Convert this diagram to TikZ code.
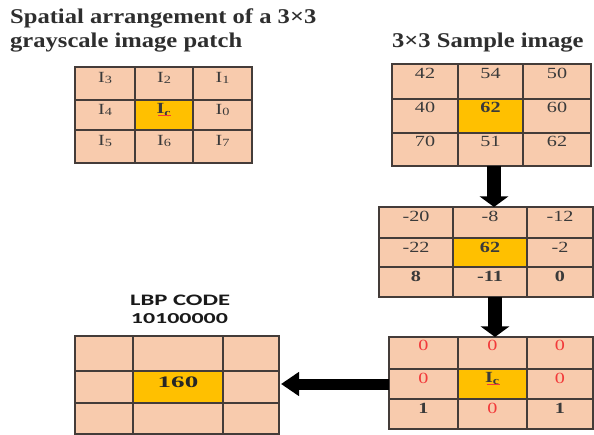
\documentclass[tikz,border=0pt]{standalone}
\usepackage{fontspec}
\setmainfont{Liberation Serif}
\newfontfamily\lbpfont{Carlito}
\usepackage{graphicx}
\usetikzlibrary{arrows.meta}
\definecolor{peach}{HTML}{F8CBAD}
\definecolor{gold}{HTML}{FFC000}
\definecolor{gridline}{HTML}{443C39}
\definecolor{txt}{HTML}{3A3A3A}
\definecolor{zred}{HTML}{F23A3A}
\definecolor{titlec}{HTML}{2E2E2E}
\newcommand{\sx}[1]{\scalebox{1.3}[1]{#1}}
\newcommand{\Isub}[1]{I\raisebox{-1pt}{\fontsize{11}{11}\selectfont #1}}
\newcommand{\Ic}{\textbf{I}\textsubscript{\textbf{c}}\llap{\textcolor{zred}{\rule[-2.5pt]{10pt}{1.1pt}}}}
\newcommand{\zr}{\textcolor{zred}{0}}
\newcommand{\cell}[8]{%
  \pgfmathsetmacro\cellw{#4-#2}%
  \pgfmathsetmacro\celld{#5-#3-#7}%
  \node[cellbox, fill=#6, anchor=north west, minimum width=\cellw pt,
        text height=#7pt, text depth=\celld pt] (#1) at (#2,#3) {\sx{#8}};}
\tikzset{
  cellbox/.style={draw=gridline, line width=1.1pt, inner sep=0pt, outer sep=0pt,
    font=\fontsize{15.5}{15.5}\selectfont, text=txt},
  titletext/.style={anchor=base west, inner sep=0pt, text=titlec,
    font=\fontsize{21}{21}\selectfont\bfseries},
  downarrow/.style={line width=13.5pt, -{Triangle[width=28pt,length=10.5pt]}},
  leftarrow/.style={line width=11pt, -{Triangle[width=23pt,length=18pt]}, shorten >=2pt}
}
\begin{document}
\begin{tikzpicture}[x=1pt,y=-1pt]
\useasboundingbox (0,0) rectangle (594,435);
% titles
\node[titletext] (t1) at (10,24) {\scalebox{1.17}[1]{Spatial arrangement of a 3×3}};
\node[titletext] (t2) at (10,48) {\scalebox{1.17}[1]{grayscale image patch}};
\node[titletext] (t3) at (392,48) {\scalebox{1.17}[1]{3×3 Sample image}};
\node[anchor=base west, inner sep=0pt, text=black!90] (lbp1) at (130,305.7)
  {\resizebox{100pt}{10.5pt}{\lbpfont\bfseries LBP CODE}};
\node[anchor=base west, inner sep=0pt, text=black!90] (lbp2) at (130.7,324)
  {\resizebox{97pt}{10pt}{\lbpfont\bfseries 10100000}};
% grid 1
\cell{g1-1}{75}{67}{135}{100}{peach}{16}{\Isub{3}}
\cell{g1-2}{135}{67}{193}{100}{peach}{16}{\Isub{2}}
\cell{g1-3}{193}{67}{252}{100}{peach}{16}{\Isub{1}}
\cell{g1-4}{75}{100}{135}{130}{peach}{15}{\Isub{4}}
\cell{g1-5}{135}{100}{193}{130}{gold}{14}{\Ic}
\cell{g1-6}{193}{100}{252}{130}{peach}{15}{\Isub{0}}
\cell{g1-7}{75}{130}{135}{163}{peach}{15.5}{\Isub{5}}
\cell{g1-8}{135}{130}{193}{163}{peach}{15.5}{\Isub{6}}
\cell{g1-9}{193}{130}{252}{163}{peach}{15.5}{\Isub{7}}
% grid 2
\cell{g2-1}{392}{64}{458}{99}{peach}{15}{42}
\cell{g2-2}{458}{64}{523}{99}{peach}{15}{54}
\cell{g2-3}{523}{64}{591}{99}{peach}{15}{50}
\cell{g2-4}{392}{99}{458}{133}{peach}{13.5}{40}
\cell{g2-5}{458}{99}{523}{133}{gold}{13.5}{\textbf{62}}
\cell{g2-6}{523}{99}{591}{133}{peach}{13.5}{60}
\cell{g2-7}{392}{133}{458}{166}{peach}{14}{70}
\cell{g2-8}{458}{133}{523}{166}{peach}{14}{51}
\cell{g2-9}{523}{133}{591}{166}{peach}{14}{62}
% grid 3
\cell{g3-1}{379}{207}{453}{238}{peach}{14.7}{-20}
\cell{g3-2}{453}{207}{527}{238}{peach}{14.7}{-8}
\cell{g3-3}{527}{207}{593}{238}{peach}{14.7}{-12}
\cell{g3-4}{379}{238}{453}{267}{peach}{14.7}{-22}
\cell{g3-5}{453}{238}{527}{267}{gold}{14.7}{\textbf{62}}
\cell{g3-6}{527}{238}{593}{267}{peach}{14.7}{-2}
\cell{g3-7}{379}{267}{453}{297}{peach}{14.7}{\textbf{8}}
\cell{g3-8}{453}{267}{527}{297}{peach}{14.7}{\textbf{-11}}
\cell{g3-9}{527}{267}{593}{297}{peach}{14.7}{\textbf{0}}
% grid 4
\cell{g4-1}{389}{337}{458}{369}{peach}{14}{\zr}
\cell{g4-2}{458}{337}{527}{369}{peach}{14}{\zr}
\cell{g4-3}{527}{337}{593}{369}{peach}{14}{\zr}
\cell{g4-4}{389}{369}{458}{399}{peach}{14}{\zr}
\cell{g4-5}{458}{369}{527}{399}{gold}{13.5}{\Ic}
\cell{g4-6}{527}{369}{593}{399}{peach}{14}{\zr}
\cell{g4-7}{389}{399}{458}{429}{peach}{14}{\textbf{1}}
\cell{g4-8}{458}{399}{527}{429}{peach}{14}{\zr}
\cell{g4-9}{527}{399}{593}{429}{peach}{14}{\textbf{1}}
% grid 5
\cell{g5-1}{75}{336}{133}{371}{peach}{16}{}
\cell{g5-2}{133}{336}{223}{371}{peach}{16}{}
\cell{g5-3}{223}{336}{279}{371}{peach}{16}{}
\cell{g5-4}{75}{371}{133}{403}{peach}{16}{}
\cell{g5-5}{133}{371}{223}{403}{gold}{16.3}{{\fontsize{16}{16}\selectfont\color{black!85}\scalebox{1.3}[1]{\textbf{160}}}}
\cell{g5-6}{223}{371}{279}{403}{peach}{16}{}
\cell{g5-7}{75}{403}{133}{434}{peach}{16}{}
\cell{g5-8}{133}{403}{223}{434}{peach}{16}{}
\cell{g5-9}{223}{403}{279}{434}{peach}{16}{}
% arrows
\draw[downarrow] ([xshift=3.5pt]g2-8.south) -- ([xshift=3.5pt]g2-8.south |- g3-2.north);
\draw[downarrow] ([xshift=5pt]g3-8.south) -- ([xshift=5pt]g3-8.south |- g4-2.north);
\draw[leftarrow] (g4-4.west) -- (g4-4.west -| g5-6.east);
\end{tikzpicture}
\end{document}
